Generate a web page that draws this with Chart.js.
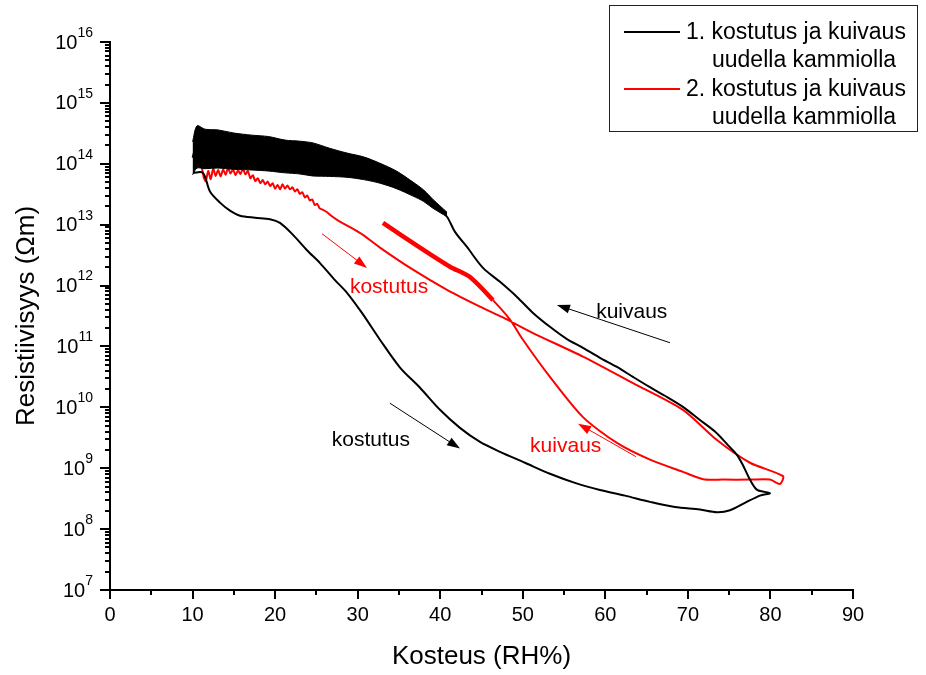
<!DOCTYPE html>
<html>
<head>
<meta charset="utf-8">
<title>Resistiivisyys vs kosteus</title>
<script src="https://cdn.jsdelivr.net/npm/chart.js@4.4.1/dist/chart.umd.min.js"></script>
<style>
  html, body { margin: 0; padding: 0; background: #fff; }
  #wrap { width: 926px; height: 675px; }
</style>
</head>
<body>
<div id="wrap"><canvas id="resChart" width="926" height="675"></canvas></div>
<script>
// --- data ---

// 1. kostutus ja kuivaus: kostutus down the lower branch, kuivaus back along the upper one
const s1X = [10.05, 11.26, 12.11, 13.32, 14.53, 15.75, 17.56, 19.38, 20.59, 22.17, 23.86, 25.44, 27.25, 28.71,
  30.52, 32.70, 35.13, 37.55, 39.97, 42.39, 44.82, 47.24, 50.27, 53.29, 56.32, 59.35, 62.38, 65.41, 68.43,
  71.46, 73.52, 75.10, 76.91, 78.73, 79.94, 78.40, 77.52, 76.67, 75.94, 74.85, 73.28, 71.46, 69.40, 67.22,
  65.41, 63.35, 61.41, 59.35, 57.29, 55.35, 53.29, 51.24, 49.30, 47.24, 45.18, 43.24, 41.79, 40.82, 39.61,
  38.15, 36.34, 34.28, 31.13, 27.01, 23.01, 19.38, 15.75, 13.08, 10.54, 10.00];
const s1Y = [7.1e13, 7.1e13, 3.5e13, 2.3e13, 1.7e13, 1.4e13, 1.3e13, 1.23e13, 1.07e13, 6.8e12, 3.8e12, 2.34e12,
  1.23e12, 7.6e11, 3.55e11, 1.29e11, 4.5e10, 2.1e10, 9.1e9, 4.6e9, 2.7e9, 1.86e9, 1.23e9, 8.1e8, 5.75e8, 4.4e8,
  3.55e8, 2.8e8, 2.3e8, 2.1e8, 1.9e8, 2.04e8, 2.7e8, 3.55e8, 3.9e8, 4.4e8, 6.5e8, 1.12e9, 1.66e9, 2.4e9, 4.0e9,
  6.2e9, 1.02e10, 1.55e10, 2.14e10, 3.16e10, 4.6e10, 6.5e10, 9.5e10, 1.32e11, 2.1e11, 3.55e11, 6.5e11, 1.15e12,
  1.95e12, 4.3e12, 7.6e12, 1.35e13, 1.95e13, 2.75e13, 3.7e13, 4.8e13, 7.4e13, 1.0e14, 1.15e14, 1.29e14,
  1.51e14, 1.7e14, 1.9e14, 1.26e14];

// noisy end of the first kuivaus: upper and lower edge of the dense band
const bandX = [10.0, 10.54, 11.5, 13.08, 15.0, 17.20, 19.2, 21.20, 23.0, 24.59, 26.6, 28.71, 30.7, 32.70, 34.7,
  36.70, 38.0, 39.12, 40.82];
const bandTop = [2.3e14, 4.2e14, 3.7e14, 3.6e14, 3.2e14, 2.95e14, 2.8e14, 2.45e14, 2.35e14, 2.2e14, 1.8e14,
  1.5e14, 1.3e14, 1.02e14, 7.6e13, 5.0e13, 3.7e13, 2.6e13, 1.6e13];
const bandBottom = [6.6e13, 8.5e13, 8.3e13, 8.5e13, 8.1e13, 7.9e13, 7.6e13, 7.1e13, 6.8e13, 6.3e13, 6.2e13,
  6.0e13, 5.5e13, 4.8e13, 3.9e13, 2.95e13, 2.4e13, 1.86e13, 1.35e13];

// 2. kostutus ja kuivaus
const s2X = [11.14, 11.35, 11.6, 11.9, 12.2, 12.5, 12.8, 13.1, 13.4, 13.7, 14.0, 14.3, 14.6, 14.9, 15.2, 15.5,
  15.8, 16.1, 16.4, 16.7, 17.0, 17.3, 17.6, 17.9, 18.2, 18.5, 18.8, 19.1, 19.4, 19.7, 20.0, 20.3, 20.6, 20.9,
  21.2, 21.5, 21.8, 22.1, 22.4, 22.7, 23.0, 23.3, 23.6, 23.9, 24.2, 24.5, 24.8, 25.1, 25.4, 25.8, 26.3, 26.8,
  27.5, 29.07, 30.64, 32.70, 36.70, 40.82, 44.82, 47.60, 51.24, 57.29, 63.35, 69.40, 73.52, 77.52, 81.52,
  81.15, 79.94, 77.52, 74.25, 71.83, 69.40, 65.41, 61.41, 57.29, 53.29, 50.02, 48.45, 46.39, 43.60, 41.18,
  37.55, 33.07];
const s2Y = [8.5e13, 6.0e13, 5.2e13, 7.6e13, 5.6e13, 8.3e13, 6.3e13, 7.9e13, 6.2e13, 8.1e13, 6.6e13, 8.5e13,
  6.9e13, 8.1e13, 6.5e13, 7.8e13, 6.8e13, 8.3e13, 6.7e13, 7.6e13, 5.8e13, 6.5e13, 5.2e13, 5.8e13, 4.8e13,
  5.4e13, 4.6e13, 5.1e13, 4.3e13, 4.8e13, 3.9e13, 4.5e13, 3.8e13, 4.6e13, 3.9e13, 4.4e13, 3.8e13, 4.1e13,
  3.5e13, 3.8e13, 3.2e13, 3.4e13, 2.8e13, 3.0e13, 2.5e13, 2.6e13, 2.1e13, 2.2e13, 1.85e13, 1.75e13, 1.6e13,
  1.4e13, 1.2e13, 9.1e12, 6.8e12, 4.2e12, 1.82e12, 8.5e11, 4.5e11, 3.0e11, 1.66e11, 6.8e10, 2.5e10, 9.1e9,
  2.9e9, 1.23e9, 7.4e8, 5.5e8, 6.5e8, 6.5e8, 6.5e8, 6.6e8, 8.7e8, 1.38e9, 2.6e9, 6.9e9, 3.16e10, 1.29e11,
  2.75e11, 5.75e11, 1.38e12, 2.04e12, 4.2e12, 1.07e13];

const legendLabels = [['1. kostutus ja kuivaus', 'uudella kammiolla'], ['2. kostutus ja kuivaus', 'uudella kammiolla']];
const seriesColors = ['#000000', '#ff0000'];

// tick labels
const xTickValues = [0, 10, 20, 30, 40, 50, 60, 70, 80, 90];
const yTickExponents = ['7', '8', '9', '10', '11', '12', '13', '14', '15', '16'];

// text notes and arrows in data coordinates
const noteText = ['kostutus', 'kuivaus', 'kostutus', 'kuivaus'];
const noteX = [33.8, 63.2, 31.6, 55.2];
const noteY = [9.5e11, 3.7e11, 2.9e9, 2.3e9];
const noteColor = ['#ff0000', '#000000', '#000000', '#ff0000'];
const arrowFromX = [25.68, 67.83, 33.9, 63.7];
const arrowFromY = [7.1e12, 1.15e11, 1.17e10, 1.55e9];
const arrowToX = [31.13, 54.14, 42.4, 56.7];
const arrowToY = [1.95e12, 4.8e11, 2.1e9, 5.4e9];

const FONT = 'Arial, "Liberation Sans", sans-serif';

function toPoints(xs, ys) {
    return xs.map((v, i) => ({ x: v, y: ys[i] }));
}

// axis ticks, labels, titles, notes and the legend box
const decorations = {
    id: 'decorations',
    afterDraw(chart) {
        const { ctx, chartArea: a, scales: { x, y } } = chart;
        ctx.save();
        ctx.strokeStyle = '#000';
        ctx.fillStyle = '#000';
        ctx.lineWidth = 2;

        // x ticks: long every 10, short every 5
        for (let v = 0; v <= 90; v += 5) {
            const px = Math.round(x.getPixelForValue(v));
            ctx.beginPath();
            ctx.moveTo(px, a.bottom);
            ctx.lineTo(px, a.bottom + (v % 10 === 0 ? 9 : 5));
            ctx.stroke();
        }
        // y ticks: long at decades, short at 2..9
        for (let e = 7; e <= 16; e++) {
            for (let k = 1; k <= 9; k++) {
                if (e === 16 && k > 1) break;
                const py = Math.round(y.getPixelForValue(k * Math.pow(10, e)));
                ctx.beginPath();
                ctx.moveTo(a.left, py);
                ctx.lineTo(a.left - (k === 1 ? 10 : 5), py);
                ctx.stroke();
            }
        }

        // y tick labels 10^n
        ctx.textBaseline = 'middle';
        ctx.textAlign = 'left';
        yTickExponents.forEach(exp => {
            const py = y.getPixelForValue(Number('1e' + exp));
            ctx.font = '14px ' + FONT;
            const supW = ctx.measureText(exp).width;
            ctx.font = '20px ' + FONT;
            const baseW = ctx.measureText('10').width;
            const right = 93;
            ctx.fillText('10', right - supW - baseW, py + 1);
            ctx.font = '14px ' + FONT;
            ctx.fillText(exp, right - supW, py - 9);
        });

        // axis titles
        ctx.font = '26px ' + FONT;
        ctx.textAlign = 'center';
        ctx.fillText('Kosteus (RH%)', (a.left + a.right) / 2, 657);
        ctx.save();
        ctx.translate(27, (a.top + a.bottom) / 2);
        ctx.rotate(-Math.PI / 2);
        ctx.fillText('Resistiivisyys (\u03A9m)', 0, 0);
        ctx.restore();

        // arrows
        ctx.lineWidth = 1;
        arrowFromX.forEach((fx, i) => {
            const x0 = x.getPixelForValue(fx), y0 = y.getPixelForValue(arrowFromY[i]);
            const x1 = x.getPixelForValue(arrowToX[i]), y1 = y.getPixelForValue(arrowToY[i]);
            const ang = Math.atan2(y1 - y0, x1 - x0);
            ctx.strokeStyle = noteColor[i];
            ctx.fillStyle = noteColor[i];
            ctx.beginPath();
            ctx.moveTo(x0, y0);
            ctx.lineTo(x1 - 10 * Math.cos(ang), y1 - 10 * Math.sin(ang));
            ctx.stroke();
            ctx.beginPath();
            ctx.moveTo(x1, y1);
            ctx.lineTo(x1 - 13 * Math.cos(ang) + 4.5 * Math.sin(ang), y1 - 13 * Math.sin(ang) - 4.5 * Math.cos(ang));
            ctx.lineTo(x1 - 13 * Math.cos(ang) - 4.5 * Math.sin(ang), y1 - 13 * Math.sin(ang) + 4.5 * Math.cos(ang));
            ctx.closePath();
            ctx.fill();
        });

        // notes
        ctx.font = '21px ' + FONT;
        ctx.textAlign = 'center';
        noteText.forEach((t, i) => {
            ctx.fillStyle = noteColor[i];
            ctx.fillText(t, x.getPixelForValue(noteX[i]), y.getPixelForValue(noteY[i]));
        });

        // legend box
        ctx.fillStyle = '#fff';
        ctx.fillRect(609.5, 5.5, 308, 126);
        ctx.strokeStyle = '#222';
        ctx.lineWidth = 1;
        ctx.strokeRect(609.5, 5.5, 308, 126);
        ctx.font = '23px ' + FONT;
        ctx.textAlign = 'left';
        legendLabels.forEach((lines, i) => {
            const top = 32 + i * 57;
            ctx.strokeStyle = seriesColors[i];
            ctx.lineWidth = 2;
            ctx.beginPath();
            ctx.moveTo(624, top);
            ctx.lineTo(680, top);
            ctx.stroke();
            ctx.fillStyle = '#000';
            ctx.fillText(lines[0], 686, top + 1);
            ctx.fillText(lines[1], 712, top + 29);
        });
        ctx.restore();
    }
};

new Chart(document.getElementById('resChart'), {
    type: 'scatter',
    data: {
        datasets: [
            {
                label: 'band top',
                data: toPoints(bandX, bandTop),
                showLine: true,
                borderColor: '#000',
                backgroundColor: '#000',
                borderWidth: 1,
                pointRadius: 0,
                tension: 0.3,
                fill: '+1'
            },
            {
                label: 'band bottom',
                data: toPoints(bandX, bandBottom),
                showLine: true,
                borderColor: '#000',
                borderWidth: 1,
                pointRadius: 0,
                tension: 0.3,
                fill: false
            },
            {
                label: legendLabels[0].join(' '),
                data: toPoints(s1X, s1Y),
                showLine: true,
                borderColor: seriesColors[0],
                borderWidth: 2,
                pointRadius: 0,
                tension: 0.3,
                fill: false
            },
            {
                label: legendLabels[1].join(' '),
                data: toPoints(s2X, s2Y),
                showLine: true,
                borderColor: seriesColors[1],
                borderWidth: 2,
                pointRadius: 0,
                tension: 0.25,
                fill: false,
                segment: {
                    // the last stretch of the second kuivaus is retraced, so it reads thicker
                    borderWidth: c => (c.p0DataIndex >= s2X.length - 5 ? 4.5 : 2)
                }
            }
        ]
    },
    options: {
        responsive: false,
        animation: false,
        layout: { padding: { top: 42, right: 73, left: 0, bottom: 0 } },
        plugins: {
            legend: { display: false },
            tooltip: { enabled: false }
        },
        scales: {
            x: {
                type: 'linear',
                min: 0,
                max: 90,
                afterBuildTicks: scale => {
                    scale.ticks = xTickValues.map(v => ({ value: v }));
                },
                afterFit: scale => { scale.height = 85; },
                ticks: {
                    autoSkip: false,
                    maxRotation: 0,
                    padding: 4,
                    color: '#000',
                    font: { family: FONT, size: 20 }
                },
                grid: { display: false, tickLength: 9 },
                border: { display: true, color: '#000', width: 2 }
            },
            y: {
                type: 'logarithmic',
                min: 1e7,
                max: 1e16,
                afterFit: scale => { scale.width = 110; },
                ticks: { display: false },
                grid: { display: false },
                border: { display: true, color: '#000', width: 2 }
            }
        }
    },
    plugins: [decorations]
});
</script>
</body>
</html>
